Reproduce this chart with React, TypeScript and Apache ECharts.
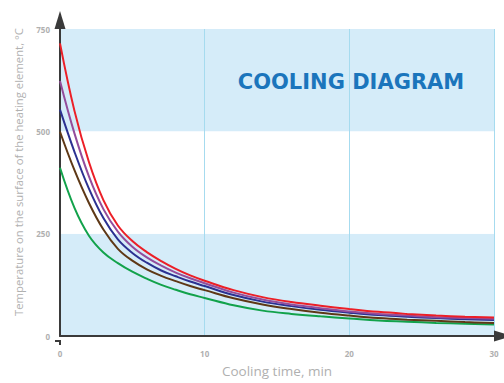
import React, { useEffect, useRef } from "react";
import * as echarts from "echarts";

const times = [0, 1, 2, 3, 4, 5, 6, 7, 8, 9, 10, 12, 14, 16, 18, 20, 22, 24, 26, 28, 30];
const redValues = [715, 550, 425, 332, 270, 232, 205, 183, 164, 148, 135, 112, 95, 83, 74, 66, 59, 54, 50, 47, 45];
const purpleValues = [623, 495, 390, 310, 255, 218, 192, 172, 155, 141, 129, 106, 89, 77, 68, 60, 54, 50, 46, 44, 42];
const blueValues = [553, 450, 360, 288, 236, 203, 179, 160, 146, 133, 122, 100, 84, 73, 64, 57, 51, 47, 44, 41, 39];
const brownValues = [499, 405, 325, 260, 213, 184, 163, 147, 134, 122, 112, 92, 77, 66, 57, 50, 44, 40, 37, 34, 32];
const greenValues = [411, 313, 245, 204, 178, 157, 140, 125, 113, 102, 93, 75, 62, 54, 48, 43, 38, 35, 32, 30, 28];

const seriesList = [
  { name: "green", color: "#12a24b", values: greenValues },
  { name: "brown", color: "#5e3816", values: brownValues },
  { name: "blue", color: "#2b3191", values: blueValues },
  { name: "purple", color: "#934d9c", values: purpleValues },
  { name: "red", color: "#ec1f27", values: redValues },
];

const titleText = "COOLING DIAGRAM";
const xName = "Cooling time, min";
const yName = "Temperature on the surface of the heating element, °C";

export default function App() {
  const ref = useRef<HTMLDivElement>(null);
  useEffect(() => {
    if (!ref.current) return;
    const chart = echarts.init(ref.current, undefined, { renderer: "svg" });
    const labelStyle = {
      color: "#b0b0b0",
      fontSize: 8,
      fontWeight: "bold" as const,
      fontFamily: "Open Sans",
    };
    const axisLine = {
      show: true,
      symbol: ["none", "triangle"],
      symbolSize: [11, 18],
      symbolOffset: [0, 9],
      lineStyle: { color: "#3a3a3a", width: 2 },
    };
    chart.setOption({
      animation: false,
      backgroundColor: "#ffffff",
      grid: { left: 60, width: 434, top: 29, height: 312, containLabel: false },
      xAxis: {
        type: "value",
        min: 0,
        max: 30,
        interval: 10,
        name: xName,
        nameLocation: "middle",
        nameGap: 28,
        nameTextStyle: { color: "#b0b0b0", fontSize: 13.5, fontFamily: "Open Sans" },
        axisLine,
        axisTick: { show: false },
        axisLabel: { ...labelStyle, margin: 13 },
        splitLine: { show: true, lineStyle: { color: "#a6dbef", width: 1 } },
      },
      yAxis: {
        type: "value",
        min: 0,
        max: 750,
        interval: 250,
        axisLine,
        axisTick: { show: false },
        axisLabel: { ...labelStyle, margin: 10 },
        splitLine: { show: false },
        splitArea: { show: true, areaStyle: { color: ["#d5ecf9", "#ffffff"] } },
      },
      graphic: [
        {
          type: "text",
          x: 351,
          y: 82,
          style: {
            text: titleText,
            fill: "#1b75bc",
            font: "bold 21px 'DejaVu Sans'",
            align: "center",
            verticalAlign: "middle",
          },
          z: 10,
        },
        {
          type: "text",
          x: 18,
          y: 172,
          rotation: Math.PI / 2,
          style: {
            text: yName,
            fill: "#b0b0b0",
            font: "11.3px 'Open Sans'",
            align: "center",
            verticalAlign: "middle",
          },
        },
        {
          type: "line",
          shape: { x1: 55, y1: 341, x2: 61, y2: 341 },
          style: { stroke: "#3a3a3a", lineWidth: 2 },
          z: 10,
        },
        {
          type: "line",
          shape: { x1: 60, y1: 340, x2: 60, y2: 345 },
          style: { stroke: "#3a3a3a", lineWidth: 2 },
          z: 10,
        },
      ],
      series: seriesList.map((s) => ({
        name: s.name,
        type: "line",
        smooth: 0.4,
        showSymbol: false,
        data: times.map((t, i) => [t, s.values[i]]),
        lineStyle: { color: s.color, width: 2 },
        itemStyle: { color: s.color },
      })),
    });
    return () => chart.dispose();
  }, []);
  return (
    <div
      ref={ref}
      style={{ position: "fixed", left: 0, top: 0, width: 504, height: 383 }}
    />
  );
}
